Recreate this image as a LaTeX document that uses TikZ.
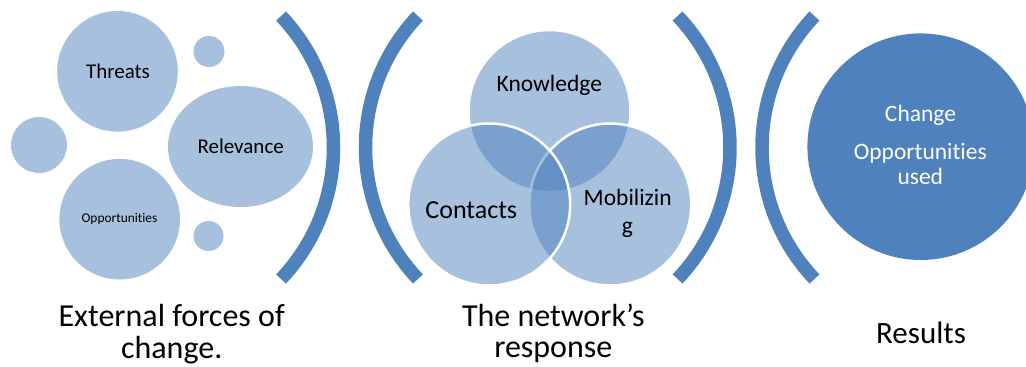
\documentclass[tikz,border=0pt]{standalone}
\usepackage{fontspec}
\setmainfont{Carlito}[RawFeature={-liga}]
\usetikzlibrary{shapes.geometric}
\definecolor{accent}{HTML}{4F81BD}
\definecolor{lightacc}{HTML}{A7C0DE}
\begin{document}
\begin{tikzpicture}[x=1pt,y=-1pt,
  bubble/.style={circle, fill=lightacc, inner sep=0pt, outer sep=0pt},
  venn/.style={circle, fill=accent, fill opacity=0.5, draw=white, draw opacity=1, line width=2.5pt, inner sep=0pt, outer sep=0pt, minimum size=162pt},
  bracketarc/.style={draw=accent, line width=13.5pt},
  lbl/.style={anchor=base, inner sep=0pt, outer sep=0pt, text=black},
  fsA/.style={font=\fontsize{21pt}{25pt}\selectfont},
  fsB/.style={font=\fontsize{13.4pt}{16pt}\selectfont},
  fsC/.style={font=\fontsize{23.5pt}{28pt}\selectfont},
  fsD/.style={font=\fontsize{26pt}{31pt}\selectfont},
  fsE/.style={font=\fontsize{32pt}{34pt}\selectfont},
  fsF/.style={font=\fontsize{31pt}{34pt}\selectfont},
]
\useasboundingbox (0,0) rectangle (1026,367);
\clip (0,0) rectangle (1026,367);

% ---- left cluster ----
\node[bubble, minimum size=120.6pt] (threats) at (117.5,71.3) {};
\node[bubble, minimum size=31pt] (smalltop) at (209,51.5) {};
\node[bubble, minimum size=56pt] (smallleft) at (39,145) {};
\node[ellipse, fill=lightacc, inner sep=0pt, minimum width=145pt, minimum height=121pt] (relevance) at (240.5,146.5) {};
\node[bubble, minimum size=120.6pt] (opps) at (119.7,219.2) {};
\node[bubble, minimum size=30pt] (smallbot) at (208.5,236) {};

\node[lbl, fsA] (tthreats) at (118,78.3) {Threats};
\node[lbl, fsA] (trelevance) at (240.7,153.3) {Relevance};
\node[lbl, fsB] (topps) at (119.5,222.7) {Opportunities};

% ---- brackets ----
\draw[bracketarc] (142.5,147.5) ++(-43.5:191) arc[start angle=-43.5, end angle=43.5, radius=191];
\draw[bracketarc] (556.5,147.5) ++(136.5:191) arc[start angle=136.5, end angle=223.5, radius=191];
\draw[bracketarc] (539,147.5) ++(-43.5:191) arc[start angle=-43.5, end angle=43.5, radius=191];
\draw[bracketarc] (953,147.5) ++(136.5:191) arc[start angle=136.5, end angle=223.5, radius=191];

% ---- venn ----
\node[venn] (knowledge) at (549.5,111) {};
\node[venn] (mobilizing) at (610.3,204.5) {};
\node[venn] (contacts) at (489.2,204.5) {};

\node[lbl, fsC] (tknow) at (549.3,91.7) {Knowledge};
\node[lbl, fsD] (tcont) at (471.3,218.3) {Contacts};
\node[lbl, fsC] (tmob1) at (627.7,205.7) {Mobilizin};
\node[lbl, fsC] (tmob2) at (627.5,233.3) {g};

% ---- result ----
\node[circle, fill=accent, inner sep=0pt, minimum size=226.6pt] (result) at (920.7,146.7) {};
\node[lbl, fsC, text=white] (tchange) at (920.5,121.7) {Change};
\node[lbl, fsC, text=white] (topused1) at (920.3,159.3) {Opportunities};
\node[lbl, fsC, text=white] (topused2) at (920.3,184.3) {used};

% ---- bottom labels ----
\node[lbl, fsE] (ext1) at (171.7,326) {External forces of};
\node[lbl, fsE] (ext2) at (171.7,358.3) {change.};
\node[lbl, fsE] (net1) at (553.3,326) {The network’s};
\node[lbl, fsE] (net2) at (553.3,357.5) {response};
\node[lbl, fsF] (res) at (921,343.3) {Results};
\end{tikzpicture}
\end{document}
